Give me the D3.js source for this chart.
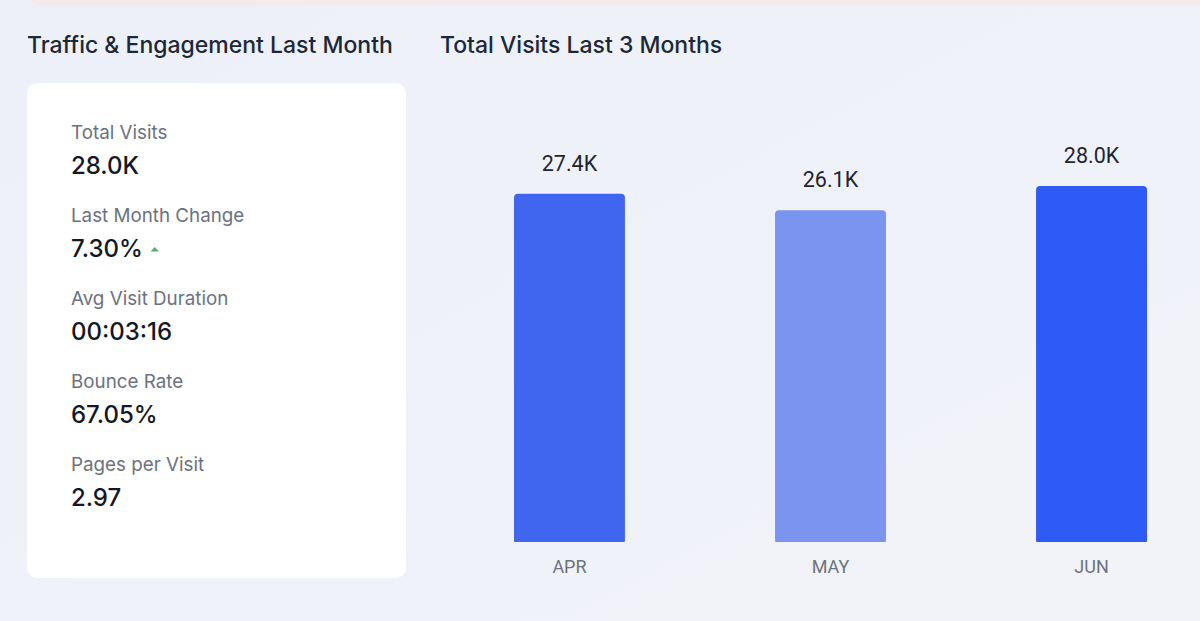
<!DOCTYPE html>
<html>
<head>
<meta charset="utf-8">
<script src="https://cdn.jsdelivr.net/npm/d3@7"></script>
<style>
  html, body { margin: 0; padding: 0; }
  body { width: 1200px; height: 621px; overflow: hidden; background: #eef1f8; }
  svg { display: block; }
</style>
</head>
<body>
<div id="chart"></div>
<script>
// data
const months = ['APR', 'MAY', 'JUN']
const visits = [27.4, 26.1, 28.0]
const visitLabels = ['27.4K', '26.1K', '28.0K']
const statLabels = ['Total Visits', 'Last Month Change', 'Avg Visit Duration', 'Bounce Rate', 'Pages per Visit']
const statValues = ['28.0K', '7.30%', '00:03:16', '67.05%', '2.97']
const statTrend = [null, 'up', null, null, null]

const barColors = ['#4066ef', '#7a94f0', '#2e5af5']
const W = 1200
const H = 621
const uiFont = 'Inter, "Noto Sans", sans-serif'
const chartFont = 'Roboto, "Liberation Sans", sans-serif'

const svg = d3.select('#chart').append('svg')
  .attr('width', W)
  .attr('height', H)

// background
const defs = svg.append('defs')
const bg = defs.append('linearGradient').attr('id', 'bg')
  .attr('x1', 0).attr('y1', 0).attr('x2', 1).attr('y2', 1)
bg.append('stop').attr('offset', '0%').attr('stop-color', '#edf0f8')
bg.append('stop').attr('offset', '100%').attr('stop-color', '#f1f3f8')
svg.append('rect').attr('width', W).attr('height', H).attr('fill', 'url(#bg)')

// pink strip at top, from a panel above
svg.append('rect')
  .attr('x', 30).attr('y', -20)
  .attr('width', W).attr('height', 26)
  .attr('rx', 10)
  .attr('fill', '#f6e9ec')

// titles
svg.append('text')
  .attr('x', 27).attr('y', 53)
  .attr('font-family', uiFont)
  .attr('font-size', 23)
  .attr('font-weight', 500)
  .attr('fill', '#1c2838')
  .text('Traffic & Engagement Last Month')

svg.append('text')
  .attr('x', 440).attr('y', 53)
  .attr('font-family', uiFont)
  .attr('font-size', 23)
  .attr('font-weight', 500)
  .attr('fill', '#1c2838')
  .text('Total Visits Last 3 Months')

// stats card
const card = svg.append('g').attr('class', 'card')
card.append('rect')
  .attr('x', 27).attr('y', 83)
  .attr('width', 379).attr('height', 495)
  .attr('rx', 10)
  .attr('fill', '#ffffff')

const rowY = d3.scalePoint()
  .domain(statLabels)
  .range([139, 471])

const rows = card.selectAll('.stat')
  .data(statLabels.map((label, i) => ({ label, value: statValues[i], trend: statTrend[i] })))
  .enter()
  .append('g')
  .attr('class', 'stat')
  .attr('transform', d => 'translate(71,' + rowY(d.label) + ')')

rows.append('text')
  .attr('font-family', uiFont)
  .attr('font-size', 18.8)
  .attr('fill', '#6b7280')
  .text(d => d.label)

rows.append('text')
  .attr('class', 'val')
  .attr('y', 35)
  .attr('font-family', uiFont)
  .attr('font-size', 24)
  .attr('font-weight', 500)
  .attr('fill', '#111827')
  .text(d => d.value)

rows.filter(d => d.trend === 'up')
  .each(function() {
    const g = d3.select(this)
    const w = g.select('.val').node().getComputedTextLength()
    g.append('path')
      .attr('d', d3.symbol(d3.symbolTriangle, 30)())
      .attr('transform', 'translate(' + (w + 12) + ',28) scale(1,0.6)')
      .attr('fill', '#4cb26a')
  })

// bar chart
const x = d3.scaleBand()
  .domain(months)
  .range([440, 1221])
  .paddingInner(0.575)
  .paddingOuter(0.2835)

const y = d3.scaleLinear()
  .domain([0, d3.max(visits)])
  .range([542, 186])

const data = months.map((m, i) => ({ month: m, value: visits[i], label: visitLabels[i], color: barColors[i] }))

const plot = svg.append('g').attr('class', 'g-plot')

plot.selectAll('.column')
  .data(data)
  .enter()
  .append('path')
  .attr('class', 'column')
  .attr('fill', d => d.color)
  .attr('d', d => {
    const x0 = x(d.month)
    const x1 = x0 + x.bandwidth()
    const y0 = y(d.value)
    const y1 = y(0)
    const r = 4
    return 'M' + x0 + ',' + (y1 - 1) +
      'V' + (y0 + r) + 'Q' + x0 + ',' + y0 + ' ' + (x0 + r) + ',' + y0 +
      'H' + (x1 - r) + 'Q' + x1 + ',' + y0 + ' ' + x1 + ',' + (y0 + r) +
      'V' + (y1 - 1) + 'Q' + x1 + ',' + y1 + ' ' + (x1 - 1) + ',' + y1 +
      'H' + (x0 + 1) + 'Q' + x0 + ',' + y1 + ' ' + x0 + ',' + (y1 - 1) + 'Z'
  })

plot.selectAll('.value-label')
  .data(data)
  .enter()
  .append('text')
  .attr('class', 'value-label')
  .attr('x', d => x(d.month) + x.bandwidth() / 2)
  .attr('y', d => y(d.value) - 23)
  .attr('text-anchor', 'middle')
  .attr('font-family', chartFont)
  .attr('font-size', 21.5)
  .attr('fill', '#1f2430')
  .text(d => d.label)

const axisX = d3.axisBottom(x).tickSize(0).tickPadding(0)
const axisG = svg.append('g')
  .attr('class', 'axis axis--x')
  .attr('transform', 'translate(0,' + y(0) + ')')
  .call(axisX)
axisG.select('.domain').remove()
axisG.selectAll('text')
  .attr('dy', null)
  .attr('y', 31)
  .attr('font-family', chartFont)
  .attr('font-size', 18)
  .attr('fill', '#6b7280')
</script>
</body>
</html>
